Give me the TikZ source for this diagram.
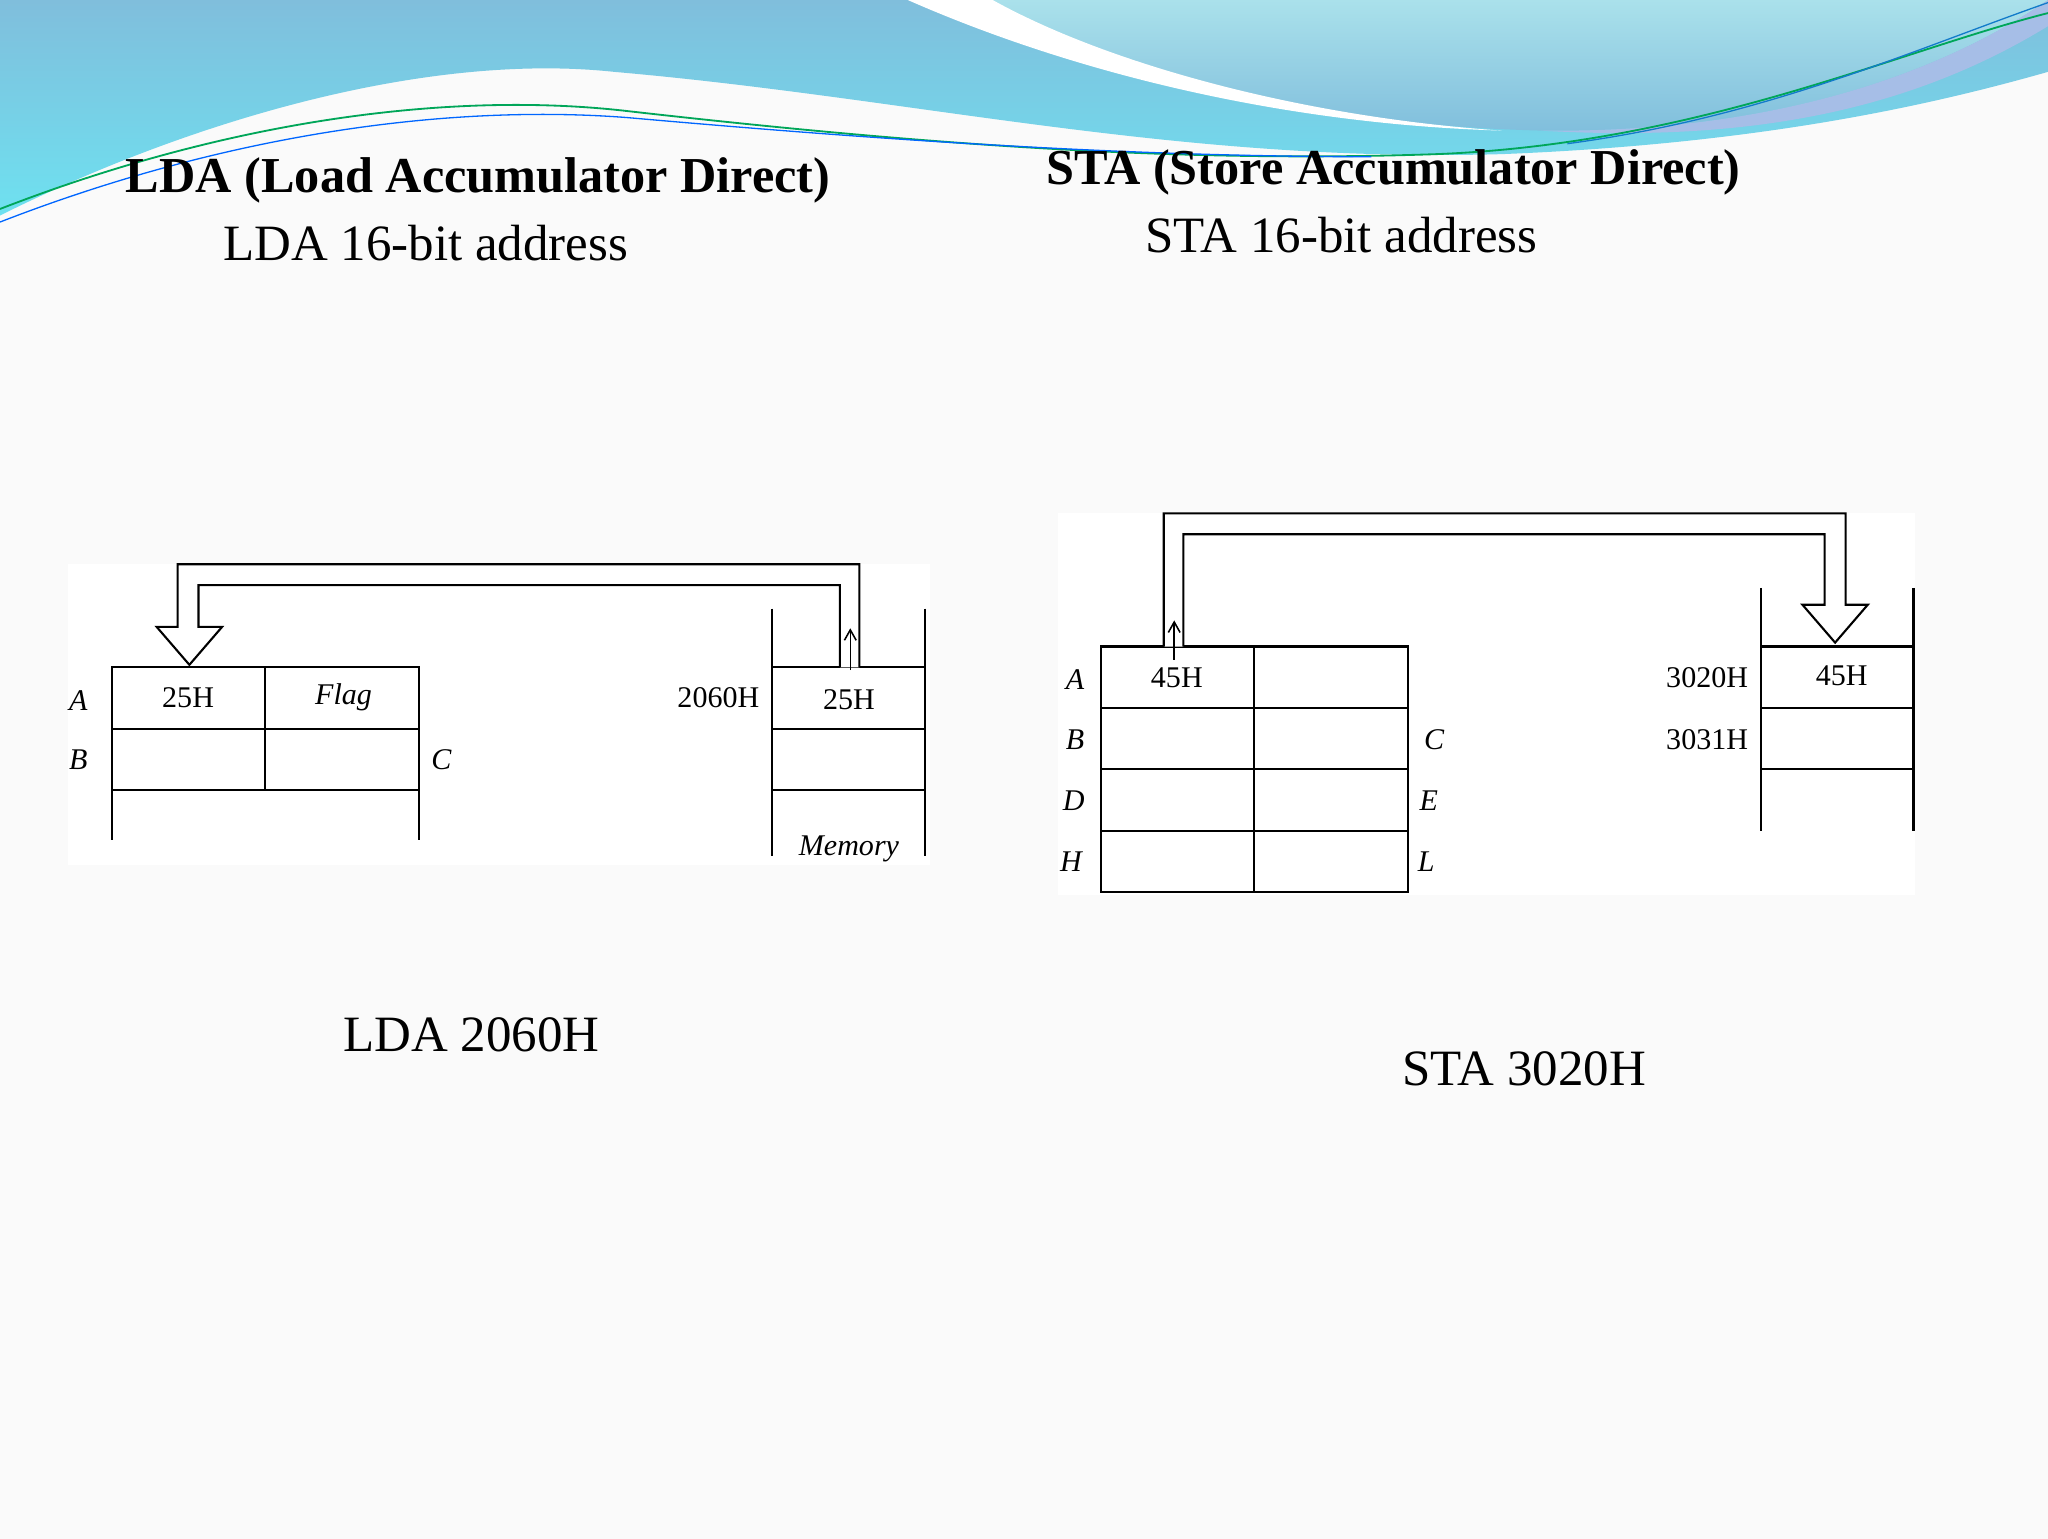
\documentclass[tikz,border=0pt]{standalone}
\usepackage{fontspec}
\setmainfont{Liberation Serif}
\usetikzlibrary{arrows.meta}
\definecolor{wblue}{RGB}{128,190,220}
\definecolor{wcyan}{RGB}{110,225,240}
\definecolor{wlight}{RGB}{170,225,235}
\begin{document}
\begin{tikzpicture}[x=1pt,y=-1pt,
  reg/.style={line width=1.6pt},
  lbl/.style={font=\fontsize{23}{23}\selectfont},
  ilbl/.style={font=\fontsize{23}{23}\selectfont\itshape},
  title/.style={font=\fontsize{38.5}{38.5}\selectfont\bfseries},
  sub/.style={font=\fontsize{39}{39}\selectfont},
  hollow/.style={line width=1.6pt},
  up/.style={line width=1.2pt,-{Straight Barb[length=8pt,width=9pt]}}]
\useasboundingbox (0,0) rectangle (1568,1178);
\fill[gray!4] (0,0) rectangle (1568,1178);
% waves
\shade[top color=wblue, bottom color=wcyan]
  (0,0) -- (0,165) .. controls (150,90) and (330,40) .. (470,55)
  .. controls (700,75) and (900,125) .. (1150,118)
  .. controls (1350,110) and (1480,80) .. (1568,55) -- (1568,0) -- cycle;
\shade[top color=wlight, bottom color=wblue] (700,0) .. controls (850,60) and (1000,95) .. (1180,100)
  .. controls (1350,102) and (1480,60) .. (1568,0) -- cycle;
\fill[white] (695,0) .. controls (820,55) and (980,95) .. (1150,100)
  .. controls (1000,90) and (850,50) .. (760,0) -- cycle;
\fill[cyan!50!blue!35] (1180,100) .. controls (1350,102) and (1480,60) .. (1568,0) -- (1568,20) .. controls (1470,80) and (1350,110) .. (1180,100);
\draw[teal!70!green, line width=1.4pt] (0,160) .. controls (180,90) and (350,70) .. (480,85)
  .. controls (700,110) and (900,125) .. (1100,118) .. controls (1300,110) and (1450,40) .. (1568,10);
\draw[blue!60!cyan, line width=1pt] (0,170) .. controls (180,100) and (350,80) .. (480,90)
  .. controls (650,105) and (850,120) .. (1050,120);
\draw[cyan!60!blue, line width=1pt] (1200,110) .. controls (1350,90) and (1460,40) .. (1568,2);
% titles
\node[title] (t1) at (366,138) {LDA (Load Accumulator Direct)};
\node[sub] (s1) at (326,186) {LDA 16-bit address};
\node[title] (t2) at (1067,132) {STA (Store Accumulator Direct)};
\node[sub] (s2) at (1027,180) {STA 16-bit address};
\node[sub] (c1) at (361,792) {LDA 2060H};
\node[sub] (c2) at (1167,818) {STA 3020H};
% ---------- left diagram
\fill[white] (52,432) rectangle (712,662);
\draw[reg] (86,643) -- (86,511) -- (321,511) -- (321,643);
\draw[reg] (86,558) -- (321,558) (86,605) -- (321,605) (203,511) -- (203,605);
\node[ilbl] (la) at (60,536) {A};
\node[ilbl] (lb) at (60,582) {B};
\node[ilbl] (lc) at (338,582) {C};
\node[lbl] (lv) at (144,534) {25H};
\node[ilbl] (lf) at (263,534) {Flag};
\draw[reg] (591,466) -- (591,655) (708,466) -- (708,655);
\draw[reg] (591,511) -- (708,511) (591,558) -- (708,558) (591,605) -- (708,605);
\node[lbl] (la1) at (550,534) {2060H};
\node[lbl] (lm) at (650,536) {25H};
\node[ilbl] (lmem) at (650,650) {Memory};
\draw[hollow, fill=white] (658,511) -- (658,432) -- (136,432) -- (136,480) -- (120,480) -- (145,509)
  -- (170,480) -- (152,480) -- (152,448) -- (643,448) -- (643,511);
\coordinate (lu1) at (651,513); \coordinate (lu2) at (651,481);
\draw[up] (lu1) -- (lu2);
% ---------- right diagram
\fill[white] (810,393) rectangle (1466,685);
\draw[reg] (843,495) rectangle (1078,683);
\draw[reg] (843,542) -- (1078,542) (843,589) -- (1078,589) (843,636) -- (1078,636) (960,495) -- (960,683);
\node[ilbl] (ra) at (823,520) {A};
\node[ilbl] (rb) at (823,566) {B};
\node[ilbl] (rd) at (822,613) {D};
\node[ilbl] (rh) at (820,660) {H};
\node[ilbl] (rc) at (1098,566) {C};
\node[ilbl] (re) at (1094,613) {E};
\node[ilbl] (rl) at (1092,660) {L};
\node[lbl] (rv) at (901,519) {45H};
\draw[reg] (1348,450) -- (1348,636) (1465,450) -- (1465,636);
\draw[reg] (1348,495) -- (1465,495) (1348,542) -- (1465,542) (1348,589) -- (1465,589);
\node[lbl] (ra1) at (1307,519) {3020H};
\node[lbl] (ra2) at (1307,566) {3031H};
\node[lbl] (rm) at (1410,517) {45H};
\draw[hollow, fill=white] (891,495) -- (891,393) -- (1413,393) -- (1413,463) -- (1430,463) -- (1405,492)
  -- (1380,463) -- (1397,463) -- (1397,409) -- (906,409) -- (906,495);
\coordinate (ru1) at (899,505); \coordinate (ru2) at (899,475);
\draw[up] (ru1) -- (ru2);
\end{tikzpicture}
\end{document}
